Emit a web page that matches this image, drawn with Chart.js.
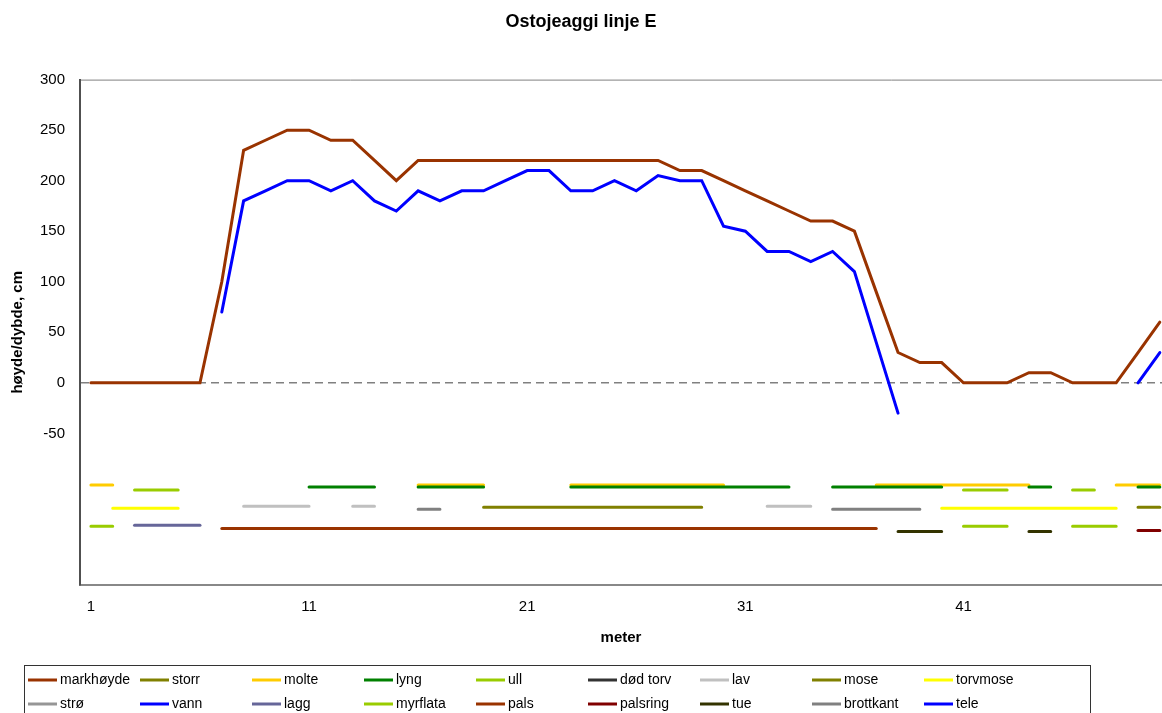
<!DOCTYPE html>
<html>
<head>
<meta charset="utf-8">
<title>Ostojeaggi linje E</title>
<script src="https://cdn.jsdelivr.net/npm/chart.js@4.4.0/dist/chart.umd.min.js"></script>
<style>
    body { margin: 0; background: #fff; }
    #wrap { width: 1162px; height: 713px; position: relative; }
</style>
</head>
<body>
<div id="wrap"><canvas id="profileChart"></canvas></div>
<script>
// meter along the line
var meter = [1, 2, 3, 4, 5, 6, 7, 8, 9, 10, 11, 12, 13, 14, 15, 16, 17, 18, 19, 20,
    21, 22, 23, 24, 25, 26, 27, 28, 29, 30, 31, 32, 33, 34, 35, 36, 37, 38, 39, 40,
    41, 42, 43, 44, 45, 46, 47, 48, 49, 50];

// ground height and frost table (cm)
var markhoyde = [0, 0, 0, 0, 0, 0, 100, 230, 240, 250, 250, 240, 240, 220, 200, 220, 220, 220, 220, 220,
    220, 220, 220, 220, 220, 220, 220, 210, 210, 200, 190, 180, 170, 160, 160, 150, 90, 30, 20, 20,
    0, 0, 0, 10, 10, 0, 0, 0, 30, 60];
var tele = [null, null, null, null, null, null, 70, 180, 190, 200, 200, 190, 200, 180, 170, 190, 180, 190, 190, 200,
    210, 210, 190, 190, 200, 190, 205, 200, 200, 155, 150, 130, 130, 120, 130, 110, 40, -30, null, null,
    null, null, null, null, null, null, null, null, 0, 30];

// vegetation / surface types: [from, to] meter
var storr = [];
var molte = [[1, 2], [16, 19], [23, 30], [37, 44], [48, 50]];
var lyng = [[11, 14], [16, 19], [23, 33], [35, 40], [44, 45], [49, 50]];
var ull = [[3, 5], [41, 43], [46, 47]];
var dodTorv = [];
var lav = [[8, 11], [13, 14], [32, 34]];
var mose = [[19, 29], [49, 50]];
var torvmose = [[2, 5], [40, 48]];
var stro = [];
var vann = [];
var lagg = [[3, 6]];
var myrflata = [[1, 2], [41, 43], [46, 48]];
var pals = [[7, 37]];
var palsring = [[49, 50]];
var tue = [[38, 40], [44, 45]];
var brottkant = [[16, 17], [35, 39]];

// level (cm) each type is drawn at under the profile
var bandLevels = {
    storr: -104, molte: -101, lyng: -103, ull: -106, dodTorv: -120, lav: -122, mose: -123,
    torvmose: -124, stro: -126, vann: -130, lagg: -141, myrflata: -142, pals: -144,
    palsring: -146, tue: -147, brottkant: -125
};

var xTicks = [1, 11, 21, 31, 41];

var FONT = '"Liberation Sans", Arial, sans-serif';

function profile(values) {
    return meter.map(function (m, i) { return { x: m, y: values[i] }; });
}

function bands(ranges, level) {
    var pts = [];
    ranges.forEach(function (r) {
        pts.push({ x: r[0], y: level }, { x: r[1], y: level }, { x: r[1], y: null });
    });
    return pts;
}

function line(label, color, data) {
    return {
        label: label,
        data: data,
        borderColor: color,
        backgroundColor: color,
        borderWidth: 3,
        borderCapStyle: 'round',
        pointRadius: 0,
        tension: 0,
        spanGaps: false,
        fill: false
    };
}

var datasets = [
    line('markhøyde', '#993300', profile(markhoyde)),
    line('storr', '#808000', bands(storr, bandLevels.storr)),
    line('molte', '#FFCC00', bands(molte, bandLevels.molte)),
    line('lyng', '#008000', bands(lyng, bandLevels.lyng)),
    line('ull', '#99CC00', bands(ull, bandLevels.ull)),
    line('død torv', '#333333', bands(dodTorv, bandLevels.dodTorv)),
    line('lav', '#C0C0C0', bands(lav, bandLevels.lav)),
    line('mose', '#808000', bands(mose, bandLevels.mose)),
    line('torvmose', '#FFFF00', bands(torvmose, bandLevels.torvmose)),
    line('strø', '#969696', bands(stro, bandLevels.stro)),
    line('vann', '#0000FF', bands(vann, bandLevels.vann)),
    line('lagg', '#666699', bands(lagg, bandLevels.lagg)),
    line('myrflata', '#99CC00', bands(myrflata, bandLevels.myrflata)),
    line('pals', '#993300', bands(pals, bandLevels.pals)),
    line('palsring', '#800000', bands(palsring, bandLevels.palsring)),
    line('tue', '#333300', bands(tue, bandLevels.tue)),
    line('brottkant', '#808080', bands(brottkant, bandLevels.brottkant)),
    line('tele', '#0000FF', profile(tele))
];
// later series on top, like the original
datasets.forEach(function (ds, i) { ds.order = datasets.length - i; });

// plot frame top line + legend box with fixed columns
var frameAndLegend = {
    id: 'frameAndLegend',
    beforeDraw: function (chart) {
        var ctx = chart.ctx, a = chart.chartArea;
        ctx.save();
        ctx.fillStyle = '#fff';
        ctx.fillRect(0, 0, chart.width, chart.height);
        ctx.strokeStyle = '#808080';
        ctx.lineWidth = 1;
        ctx.beginPath();
        ctx.moveTo(a.left, a.top + 0.5);
        ctx.lineTo(a.right, a.top + 0.5);
        ctx.stroke();
        ctx.restore();
    },
    afterDraw: function (chart) {
        var ctx = chart.ctx;
        ctx.save();
        ctx.strokeStyle = '#333';
        ctx.lineWidth = 1;
        ctx.strokeRect(24.5, 665.5, 1066, 60);
        ctx.font = '14px ' + FONT;
        ctx.textBaseline = 'middle';
        chart.data.datasets.forEach(function (ds, i) {
            var col = i % 9, row = Math.floor(i / 9);
            var x = 28 + col * 112, y = 680 + row * 24;
            ctx.strokeStyle = ds.borderColor;
            ctx.lineWidth = 3;
            ctx.beginPath();
            ctx.moveTo(x, y);
            ctx.lineTo(x + 29, y);
            ctx.stroke();
            ctx.fillStyle = '#000';
            ctx.fillText(ds.label, x + 32, y);
        });
        ctx.restore();
    }
};

var ctx = document.getElementById('profileChart').getContext('2d');
var profileChart = new Chart(ctx, {
    type: 'line',
    data: { datasets: datasets },
    plugins: [frameAndLegend],
    options: {
        responsive: true,
        maintainAspectRatio: false,
        animation: false,
        layout: { padding: { left: 0, right: 0, top: 0, bottom: 66 } },
        plugins: {
            legend: { display: false },
            tooltip: { enabled: false },
            title: {
                display: true,
                text: 'Ostojeaggi linje E',
                color: '#000',
                font: { family: FONT, size: 18, weight: 'bold' },
                padding: { top: 11, bottom: 47 }
            }
        },
        scales: {
            x: {
                type: 'linear',
                min: 0.5,
                max: 50.1,
                afterBuildTicks: function (scale) {
                    scale.ticks = xTicks.map(function (v) { return { value: v }; });
                },
                afterFit: function (scale) { scale.height = 62; },
                grid: { display: false },
                border: { display: true, color: '#888', width: 2 },
                ticks: { color: '#000', font: { family: FONT, size: 15 }, padding: 5, maxRotation: 0 },
                title: {
                    display: true,
                    text: 'meter',
                    color: '#000',
                    font: { family: FONT, size: 15, weight: 'bold' },
                    padding: { top: 0, bottom: 0 }
                }
            },
            y: {
                min: -200,
                max: 300,
                afterFit: function (scale) { scale.width = 80; },
                ticks: {
                    stepSize: 50,
                    padding: 15,
                    color: '#000',
                    font: { family: FONT, size: 15 },
                    callback: function (v) { return v >= -50 ? v : ''; }
                },
                grid: {
                    drawTicks: false,
                    lineWidth: 1.5,
                    color: function (c) { return c.tick && c.tick.value === 0 ? '#808080' : 'rgba(0,0,0,0)'; }
                },
                border: { color: '#505050', width: 2, dash: [8, 5] },
                title: {
                    display: true,
                    text: 'høyde/dybde, cm',
                    color: '#000',
                    font: { family: FONT, size: 15, weight: 'bold' },
                    padding: { top: 9, bottom: 0 }
                }
            }
        }
    }
});
</script>
</body>
</html>
